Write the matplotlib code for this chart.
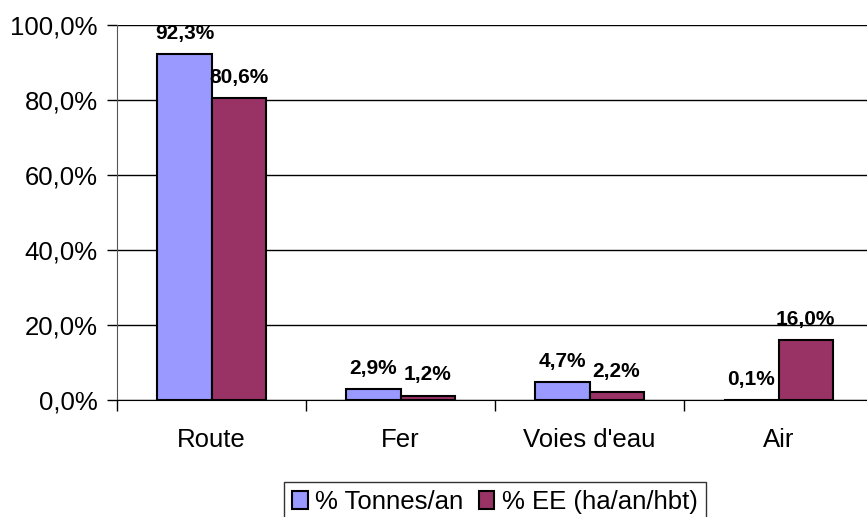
import matplotlib
matplotlib.use('Agg')

import matplotlib.pyplot as plt
import numpy as np
from matplotlib.ticker import FuncFormatter

categories = ["Route", "Fer", "Voies d'eau", "Air"]
tonnes = [92.3, 2.9, 4.7, 0.1]
ee = [80.6, 1.2, 2.2, 16.0]
series_names = ["% Tonnes/an", "% EE (ha/an/hbt)"]

plt.rcParams['font.family'] = ['Liberation Sans', 'DejaVu Sans']

fig = plt.figure(figsize=(8.67, 5.17), dpi=100)
ax = fig.add_axes([117 / 867, 117 / 517, 756 / 867, 375 / 517])

x = np.arange(len(categories))
w = 0.286
b1 = ax.bar(x - w / 2, tonnes, w, color='#9999FF', edgecolor='black', linewidth=1.5,
            label=series_names[0], zorder=3)
b2 = ax.bar(x + w / 2, ee, w, color='#993366', edgecolor='black', linewidth=1.5,
            label=series_names[1], zorder=3)

def pct(v):
    return ("%.1f%%" % v).replace('.', ',')

for bars, vals in ((b1, tonnes), (b2, ee)):
    for r, v in zip(bars, vals):
        ax.annotate(pct(v), (r.get_x() + r.get_width() / 2, v), xytext=(0, 8),
                    textcoords='offset points', ha='center', va='bottom',
                    fontsize=15, fontweight='bold', zorder=4)

ax.set_xlim(-0.5, len(categories) - 0.5)
ax.set_ylim(0, 100)
ax.set_yticks(np.arange(0, 101, 20))
ax.yaxis.set_major_formatter(FuncFormatter(lambda v, p: pct(v)))
ax.yaxis.grid(True, color='black', linewidth=1)
ax.set_axisbelow(True)

# category labels between the boundary ticks
ax.set_xticks(np.arange(-0.5, len(categories)), minor=False)
ax.set_xticklabels([])
ax.set_xticks(x, minor=True)
ax.set_xticklabels(categories, minor=True)
ax.tick_params(axis='x', which='major', length=8, width=1, direction='out')
ax.tick_params(axis='x', which='minor', length=0, pad=20, labelsize=18.5)
ax.tick_params(axis='y', length=7, width=1, direction='out', labelsize=18.5, pad=7)

for s in ('top', 'right'):
    ax.spines[s].set_visible(False)
ax.spines['left'].set_color('#555555')
ax.spines['bottom'].set_color('black')

leg = fig.legend(loc='upper center', bbox_to_anchor=(495 / 867, 1 - 482 / 517),
                 ncol=2, fontsize=18.5, frameon=True, fancybox=False,
                 handlelength=0.6, handleheight=0.7, handletextpad=0.3,
                 columnspacing=0.6, borderpad=0.3, borderaxespad=0)
leg.get_frame().set_edgecolor('black')
leg.get_frame().set_linewidth(1)

fig.savefig('out.png', dpi=100)
